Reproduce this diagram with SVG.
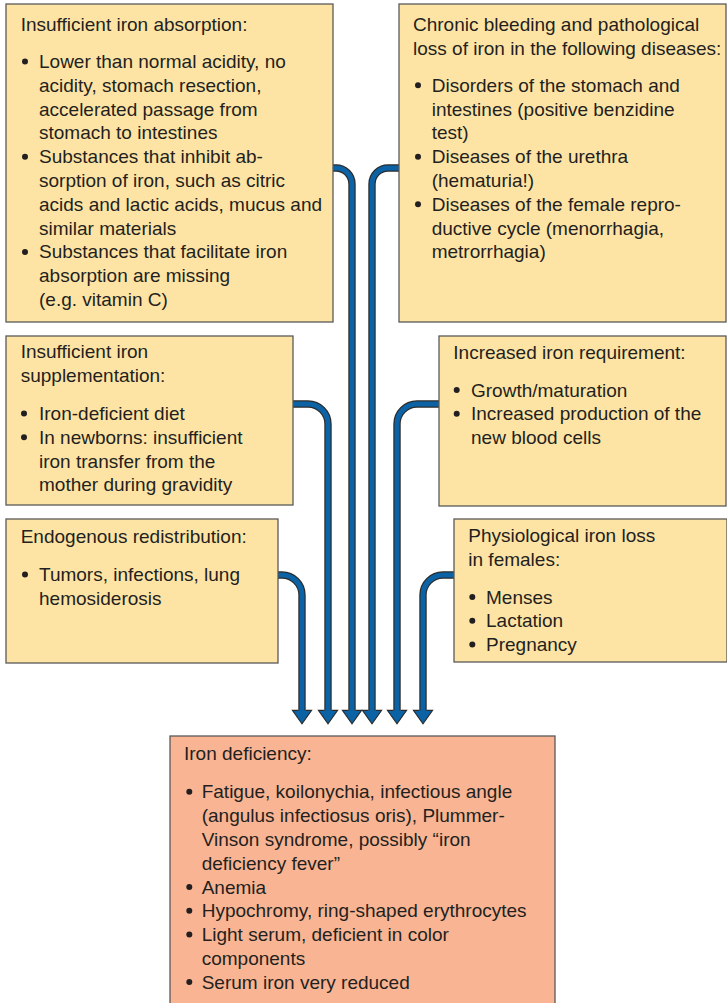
<svg xmlns="http://www.w3.org/2000/svg" width="727" height="1003" viewBox="0 0 727 1003">
<style>
.box{fill:#fee4a4;stroke:#5a5a5a;stroke-width:1.3}
.red{fill:#f9b593;stroke:#5a5a5a;stroke-width:1.3}
text{font-family:"Liberation Sans",Arial,sans-serif;font-size:19px;fill:#231f20}
.dot{fill:#231f20}
.sh{fill:none;stroke:#2b2b2b;stroke-width:7.4}
.bl{fill:none;stroke:#0b63a5;stroke-width:5;marker-end:url(#head)}
</style>
<defs>
<marker id="head" markerUnits="userSpaceOnUse" viewBox="-2 -11 17 22" markerWidth="17" markerHeight="22" refX="0" refY="0" orient="auto">
<path d="M-0.6,-3.6 L-0.6,-9.6 L12.8,0 L-0.6,9.6 L-0.6,3.6" fill="#0b63a5" stroke="#2b2b2b" stroke-width="1.1" stroke-linejoin="miter"/>
</marker>
</defs>
<rect width="727" height="1003" fill="#ffffff"/>

<g id="connectors">
<path class="sh" d="M333,168 H336 A16,16 0 0 1 352,184 V711"/>
<path class="bl" d="M333,168 H336 A16,16 0 0 1 352,184 V711"/>
<path class="sh" d="M399,168 H388 A16,16 0 0 0 372,184 V711"/>
<path class="bl" d="M399,168 H388 A16,16 0 0 0 372,184 V711"/>
<path class="sh" d="M293,404 H308 A20,20 0 0 1 328,424 V711"/>
<path class="bl" d="M293,404 H308 A20,20 0 0 1 328,424 V711"/>
<path class="sh" d="M439,404 H417 A20,20 0 0 0 397,424 V711"/>
<path class="bl" d="M439,404 H417 A20,20 0 0 0 397,424 V711"/>
<path class="sh" d="M278,575 H282 A20,20 0 0 1 302,595 V711"/>
<path class="bl" d="M278,575 H282 A20,20 0 0 1 302,595 V711"/>
<path class="sh" d="M454,575 H443 A20,20 0 0 0 423,595 V711"/>
<path class="bl" d="M454,575 H443 A20,20 0 0 0 423,595 V711"/>
</g>

<g id="absorption">
<rect class="box" x="6" y="4" width="327" height="318"/>
<text x="20.7" y="31">Insufficient iron absorption:</text>
<circle class="dot" cx="25" cy="61.5" r="3"/>
<circle class="dot" cx="25" cy="156.7" r="3"/>
<circle class="dot" cx="25" cy="251.9" r="3"/>
<text x="39" y="68">Lower than normal acidity, no<tspan x="39" dy="23.8">acidity, stomach resection,</tspan><tspan x="39" dy="23.8">accelerated passage from</tspan><tspan x="39" dy="23.8">stomach to intestines</tspan><tspan x="39" dy="23.8">Substances that inhibit ab-</tspan><tspan x="39" dy="23.8">sorption of iron, such as citric</tspan><tspan x="39" dy="23.8">acids and lactic acids, mucus and</tspan><tspan x="39" dy="23.8">similar materials</tspan><tspan x="39" dy="23.8">Substances that facilitate iron</tspan><tspan x="39" dy="23.8">absorption are missing</tspan><tspan x="39" dy="23.8">(e.g. vitamin C)</tspan></text>
</g>

<g id="bleeding">
<rect class="box" x="399" y="4" width="327" height="318"/>
<text x="413" y="31">Chronic bleeding and pathological<tspan x="413" dy="23.8">loss of iron in the following diseases:</tspan></text>
<circle class="dot" cx="418" cy="85.3" r="3"/>
<circle class="dot" cx="418" cy="156.7" r="3"/>
<circle class="dot" cx="418" cy="204.3" r="3"/>
<text x="431.7" y="91.8">Disorders of the stomach and<tspan x="431.7" dy="23.8">intestines (positive benzidine</tspan><tspan x="431.7" dy="23.8">test)</tspan><tspan x="431.7" dy="23.8">Diseases of the urethra</tspan><tspan x="431.7" dy="23.8">(hematuria!)</tspan><tspan x="431.7" dy="23.8">Diseases of the female repro-</tspan><tspan x="431.7" dy="23.8">ductive cycle (menorrhagia,</tspan><tspan x="431.7" dy="23.8">metrorrhagia)</tspan></text>
</g>

<g id="supplementation">
<rect class="box" x="6" y="336" width="287" height="169"/>
<text x="20.7" y="358">Insufficient iron<tspan x="20.7" dy="23.8">supplementation:</tspan></text>
<circle class="dot" cx="24" cy="413.5" r="3"/>
<circle class="dot" cx="24" cy="437.3" r="3"/>
<text x="39" y="420">Iron-deficient diet<tspan x="39" dy="23.8">In newborns: insufficient</tspan><tspan x="39" dy="23.8">iron transfer from the</tspan><tspan x="39" dy="23.8">mother during gravidity</tspan></text>
</g>

<g id="requirement">
<rect class="box" x="439" y="336" width="287" height="170"/>
<text x="453.3" y="359">Increased iron requirement:</text>
<circle class="dot" cx="456.7" cy="390" r="3"/>
<circle class="dot" cx="456.7" cy="413.8" r="3"/>
<text x="471" y="396.5">Growth/maturation<tspan x="471" dy="23.8">Increased production of the</tspan><tspan x="471" dy="23.8">new blood cells</tspan></text>
</g>

<g id="redistribution">
<rect class="box" x="6" y="519" width="272" height="144"/>
<text x="20.7" y="543">Endogenous redistribution:</text>
<circle class="dot" cx="25" cy="574.5" r="3"/>
<text x="39" y="581">Tumors, infections, lung<tspan x="39" dy="23.8">hemosiderosis</tspan></text>
</g>

<g id="physiological">
<rect class="box" x="454" y="519" width="273" height="143"/>
<text x="468.3" y="542">Physiological iron loss<tspan x="468.3" dy="23.8">in females:</tspan></text>
<circle class="dot" cx="472.3" cy="597" r="3"/>
<circle class="dot" cx="472.3" cy="620.8" r="3"/>
<circle class="dot" cx="472.3" cy="644.6" r="3"/>
<text x="486" y="603.5">Menses<tspan x="486" dy="23.8">Lactation</tspan><tspan x="486" dy="23.8">Pregnancy</tspan></text>
</g>

<g id="deficiency">
<rect class="red" x="170" y="736" width="385" height="280"/>
<text x="184" y="760">Iron deficiency:</text>
<circle class="dot" cx="189.3" cy="791.8" r="3"/>
<circle class="dot" cx="189.3" cy="886.9" r="3"/>
<circle class="dot" cx="189.3" cy="910.7" r="3"/>
<circle class="dot" cx="189.3" cy="934.5" r="3"/>
<circle class="dot" cx="189.3" cy="982.1" r="3"/>
<text x="201.7" y="798.3">Fatigue, koilonychia, infectious angle<tspan x="201.7" dy="23.8">(angulus infectiosus oris), Plummer-</tspan><tspan x="201.7" dy="23.8">Vinson syndrome, possibly “iron</tspan><tspan x="201.7" dy="23.8">deficiency fever”</tspan><tspan x="201.7" dy="23.8">Anemia</tspan><tspan x="201.7" dy="23.8">Hypochromy, ring-shaped erythrocytes</tspan><tspan x="201.7" dy="23.8">Light serum, deficient in color</tspan><tspan x="201.7" dy="23.8">components</tspan><tspan x="201.7" dy="23.8">Serum iron very reduced</tspan></text>
</g>
</svg>
